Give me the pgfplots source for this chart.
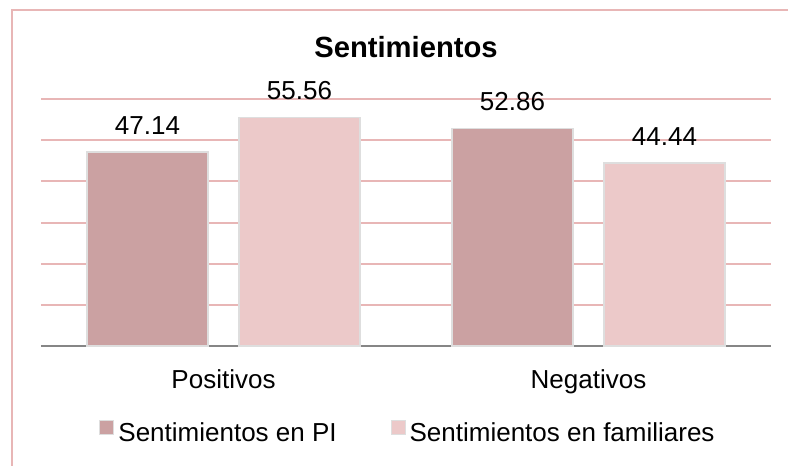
\documentclass[border=0pt]{standalone}
\usepackage{pgfplots}
\pgfplotsset{compat=1.18}
\usepackage{fontspec}
\setmainfont{Liberation Sans}
\definecolor{barA}{RGB}{203,161,162}
\definecolor{barB}{RGB}{236,201,201}
\definecolor{gridc}{RGB}{232,182,182}
\definecolor{axisc}{RGB}{134,134,134}
\definecolor{edgec}{RGB}{222,222,222}
\begin{document}
\begin{tikzpicture}
\path[use as bounding box] (-20.5bp,-60bp) rectangle (373.5bp,173bp);
\draw[gridc, line width=1bp] (-14.5bp,-100bp) rectangle (420bp,168bp);
\begin{axis}[
  at={(0,0)}, anchor=south west,
  scale only axis, width=365bp, height=123.5bp,
  xmin=-0.5, xmax=1.5, ymin=0, ymax=60,
  ybar=15.5bp, bar width=60.5bp,
  /pgf/number format/assume math mode=true,
  axis x line*=bottom, axis y line*=left,
  x axis line style={axisc, line width=1bp, -},
  y axis line style={draw=none},
  xtick={0,1}, xticklabels={Positivos,Negativos},
  major tick length=0pt,
  xticklabel style={anchor=base, yshift=-21bp, font=\fontsize{13bp}{15bp}\selectfont},
  ytick={10,20,...,60}, yticklabel=\empty,
  ymajorgrids, grid style={draw=gridc, line width=1bp},
  title={Sentimientos},
  title style={at={(0.5,1)}, anchor=base, yshift=15bp, font=\bfseries\fontsize{14.6bp}{17bp}\selectfont},
  nodes near coords={\pgfmathprintnumber[fixed,fixed zerofill,precision=2,assume math mode=true]{\pgfplotspointmeta}},
  nodes near coords style={font=\fontsize{13bp}{15bp}\selectfont, anchor=south, inner sep=0pt, yshift=8.5bp, text=black},
  legend columns=2,
  legend style={draw=none, fill=none, at={(0.5,0)}, anchor=center, xshift=1.5bp, yshift=-44bp,
    font=\fontsize{13bp}{15bp}\selectfont,
    /tikz/every even column/.append style={column sep=25bp}},
]
\addplot[fill=barA, draw=edgec, line width=0.7bp,
  legend image code/.code={\draw[fill=barA, draw=edgec, line width=0.5bp] (0bp,0bp) rectangle (7bp,7bp);}]
  coordinates {(0,47.14) (1,52.86)};
\addplot[fill=barB, draw=edgec, line width=0.7bp,
  legend image code/.code={\draw[fill=barB, draw=edgec, line width=0.5bp] (0bp,0bp) rectangle (7bp,7bp);}]
  coordinates {(0,55.56) (1,44.44)};
\legend{Sentimientos en PI, Sentimientos en familiares}
\end{axis}
\end{tikzpicture}
\end{document}
